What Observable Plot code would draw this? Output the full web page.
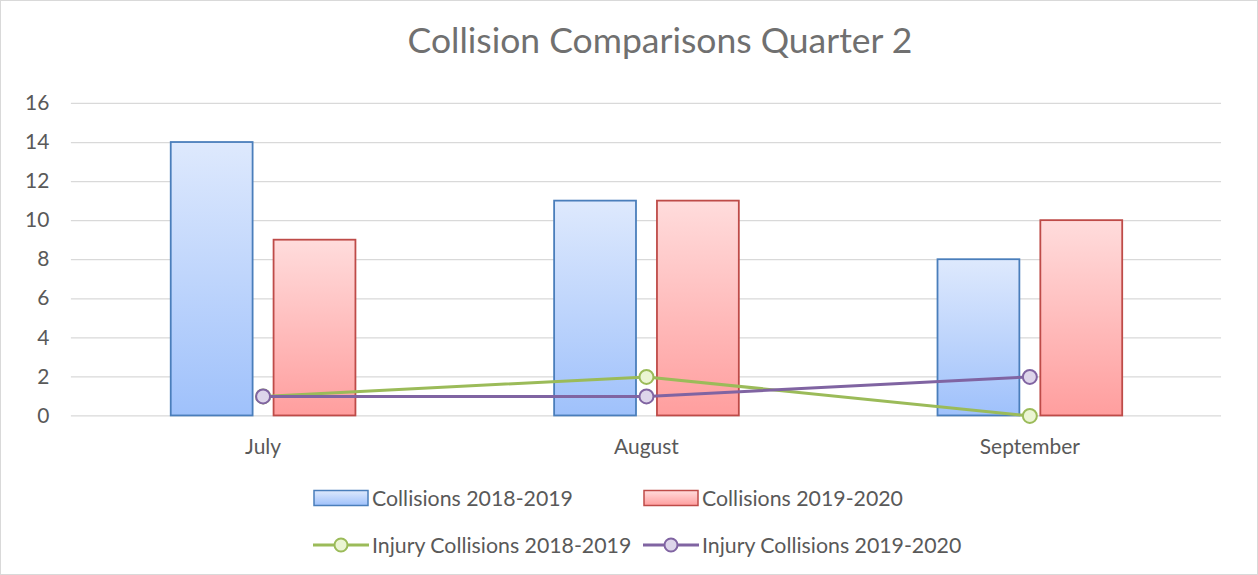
<!DOCTYPE html>
<html><head><meta charset="utf-8">
<script src="https://cdn.jsdelivr.net/npm/d3@7"></script>
<script src="https://cdn.jsdelivr.net/npm/@observablehq/plot@0.6"></script>
<style>
html,body{margin:0;padding:0;background:#fff;}
#frame{position:relative;width:1256px;height:573px;border:1px solid #d9d9d9;overflow:hidden;font-family:Lato,"Open Sans",sans-serif;color:#595959;}
#title{position:absolute;left:0;top:18px;width:1318px;text-align:center;font-size:35.5px;line-height:42px;color:#707070;}
#chart{position:absolute;left:0;top:80px;}
#legend{position:absolute;left:0;top:480px;width:1256px;font-size:21.3px;}
.item{position:absolute;display:flex;align-items:center;white-space:nowrap;}
.item svg{margin-right:3px;}
</style></head>
<body>
<div id="frame">
  <div id="title">Collision Comparisons Quarter 2</div>
  <div id="chart"></div>
  <div id="legend"></div>
</div>
<script>
const months = ["July", "August", "September"];
const collisions1819 = [14, 11, 8];
const collisions1920 = [9, 11, 10];
const injury1819 = [1, 2, 0];
const injury1920 = [1, 1, 2];
const yTicks = [0, 2, 4, 6, 8, 10, 12, 14, 16];
const seriesNames = ["Collisions 2018-2019", "Collisions 2019-2020", "Injury Collisions 2018-2019", "Injury Collisions 2019-2020"];

const bars1819 = months.map((m, i) => ({month: m, value: collisions1819[i]}));
const bars1920 = months.map((m, i) => ({month: m, value: collisions1920[i]}));
const line1819 = months.map((m, i) => ({month: m, value: injury1819[i]}));
const line1920 = months.map((m, i) => ({month: m, value: injury1920[i]}));

const plot = Plot.plot({
  width: 1258,
  height: 390,
  marginTop: 22,
  marginBottom: 55,
  marginLeft: 70,
  marginRight: 36,
  style: {fontFamily: "Lato, 'Open Sans', sans-serif", fontSize: "21px", color: "#595959", background: "transparent"},
  x: {domain: months, type: "band", padding: 0, label: null, tickSize: 0, tickPadding: 23},
  y: {domain: [0, 16], ticks: yTicks, label: null, tickSize: 0, tickPadding: 22},
  marks: [
    Plot.ruleY(yTicks, {stroke: "#d9d9d9", strokeWidth: 1.3}),
    Plot.barY(bars1819, {x: "month", y: "value", fill: "url(#gBlue)", stroke: "#4a7ebb", strokeWidth: 1.8, insetLeft: 100, insetRight: 202}),
    Plot.barY(bars1920, {x: "month", y: "value", fill: "url(#gRed)", stroke: "#be4b48", strokeWidth: 1.8, insetLeft: 203, insetRight: 99}),
    Plot.line(line1819, {x: "month", y: "value", stroke: "#9bbb59", strokeWidth: 3}),
    Plot.dot(line1819, {x: "month", y: "value", r: 7, fill: "#ebf5d3", stroke: "#9bbb59", strokeWidth: 2}),
    Plot.line(line1920, {x: "month", y: "value", stroke: "#8064a2", strokeWidth: 3}),
    Plot.dot(line1920, {x: "month", y: "value", r: 7, fill: "#ddd5ea", stroke: "#8064a2", strokeWidth: 2})
  ]
});

const defs = d3.select(plot).insert("defs", ":first-child");
function grad(id, top, bottom) {
  const g = defs.append("linearGradient").attr("id", id).attr("x1", 0).attr("y1", 0).attr("x2", 0).attr("y2", 1);
  g.append("stop").attr("offset", "0%").attr("stop-color", top);
  g.append("stop").attr("offset", "100%").attr("stop-color", bottom);
}
grad("gBlue", "#dee9fd", "#9fc1fb");
grad("gRed", "#ffdcdc", "#ff9e9e");
d3.select(plot).selectAll("[aria-label='y-axis tick label'] text, [aria-label='x-axis tick label'] text").attr("fill", "#595959");
document.getElementById("chart").appendChild(plot);

// legend
const legend = d3.select("#legend");
const items = [
  {name: seriesNames[0], kind: "bar", fill: "url(#lgBlue)", stroke: "#4a7ebb", left: 312, top: 2},
  {name: seriesNames[1], kind: "bar", fill: "url(#lgRed)", stroke: "#be4b48", left: 642, top: 2},
  {name: seriesNames[2], kind: "line", fill: "#ebf5d3", stroke: "#9bbb59", left: 312, top: 49},
  {name: seriesNames[3], kind: "line", fill: "#ddd5ea", stroke: "#8064a2", left: 642, top: 49}
];
const lsvgDefs = legend.append("svg").attr("width", 0).attr("height", 0).style("position", "absolute").append("defs");
[["lgBlue", "#dee9fd", "#9fc1fb"], ["lgRed", "#ffdcdc", "#ff9e9e"]].forEach(([id, a, b]) => {
  const g = lsvgDefs.append("linearGradient").attr("id", id).attr("x1", 0).attr("y1", 0).attr("x2", 0).attr("y2", 1);
  g.append("stop").attr("offset", "0%").attr("stop-color", a);
  g.append("stop").attr("offset", "100%").attr("stop-color", b);
});
items.forEach(it => {
  const div = legend.append("div").attr("class", "item").style("left", it.left + "px").style("top", it.top + "px").style("height", "30px");
  const s = div.append("svg").attr("width", 56).attr("height", 20);
  if (it.kind === "bar") {
    s.append("rect").attr("x", 1).attr("y", 2.5).attr("width", 54).attr("height", 15).attr("fill", it.fill).attr("stroke", it.stroke).attr("stroke-width", 1.5);
  } else {
    s.append("line").attr("x1", 0).attr("x2", 56).attr("y1", 10).attr("y2", 10).attr("stroke", it.stroke).attr("stroke-width", 3);
    s.append("circle").attr("cx", 28).attr("cy", 10).attr("r", 6.5).attr("fill", it.fill).attr("stroke", it.stroke).attr("stroke-width", 2);
  }
  div.append("span").text(it.name);
});
</script>
</body></html>
